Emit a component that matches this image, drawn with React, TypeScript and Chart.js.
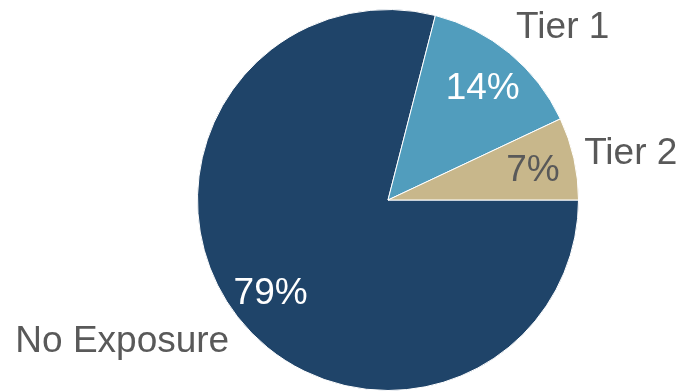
import React, { useEffect, useRef } from "react";
import { Chart, registerables } from "chart.js";

Chart.register(...registerables);

const categories = ["No Exposure", "Tier 1", "Tier 2"];
const shares = [79, 14, 7];
const sliceColors = ["#1F4469", "#519DBD", "#C8B78B"];
const innerTextColors = ["#FFFFFF", "#FFFFFF", "#595959"];
const outerTextColor = "#595959";
const FONT_SIZE = 37;
const FONT = `${FONT_SIZE}px 'Liberation Sans', Arial, sans-serif`;

const labelPlugin = {
  id: "pieLabels",
  afterDatasetsDraw(chart: any) {
    const ctx = chart.ctx as CanvasRenderingContext2D;
    const meta = chart.getDatasetMeta(0);
    const data = chart.data.datasets[0].data as number[];
    const total = data.reduce((a, b) => a + b, 0);
    ctx.save();
    ctx.font = FONT;
    const capH = FONT_SIZE * 0.716;
    meta.data.forEach((el: any, i: number) => {
      const { x, y, startAngle, endAngle, outerRadius } = el.getProps(
        ["x", "y", "startAngle", "endAngle", "outerRadius"],
        true
      );
      const mid = (startAngle + endAngle) / 2;
      const c = Math.cos(mid);
      const s = Math.sin(mid);
      // inner percent label
      const ir = outerRadius * 0.78;
      ctx.fillStyle = innerTextColors[i];
      ctx.textAlign = "center";
      ctx.textBaseline = "alphabetic";
      const pct = Math.round((data[i] / total) * 100) + "%";
      ctx.fillText(pct, x + c * ir, y + s * ir + capH / 2);
      // outer category label
      const or = outerRadius * 1.055;
      const ax = x + c * or;
      const ay = y + s * or;
      const cy = ay + s * 26;
      ctx.fillStyle = outerTextColor;
      ctx.textAlign = c >= 0 ? "left" : "right";
      ctx.fillText(chart.data.labels[i], ax, cy + capH / 2);
    });
    ctx.restore();
  },
};

export default function App() {
  const ref = useRef<HTMLCanvasElement | null>(null);
  useEffect(() => {
    document.body.style.margin = "0";
    const chart = new Chart(ref.current as HTMLCanvasElement, {
      type: "pie",
      data: {
        labels: categories,
        datasets: [
          {
            data: shares,
            backgroundColor: sliceColors,
            borderColor: "#FFFFFF",
            borderWidth: 1,
          },
        ],
      },
      options: {
        responsive: false,
        animation: false,
        rotation: 90,
        layout: { padding: { left: 197, right: 107, top: 9, bottom: 1 } },
        plugins: {
          legend: { display: false },
          tooltip: { enabled: false },
          title: { display: false },
        },
      },
      plugins: [labelPlugin],
    });
    return () => chart.destroy();
  }, []);
  return (
    <div style={{ width: 686, height: 392 }}>
      <canvas ref={ref} width={686} height={392} style={{ display: "block" }} />
    </div>
  );
}
